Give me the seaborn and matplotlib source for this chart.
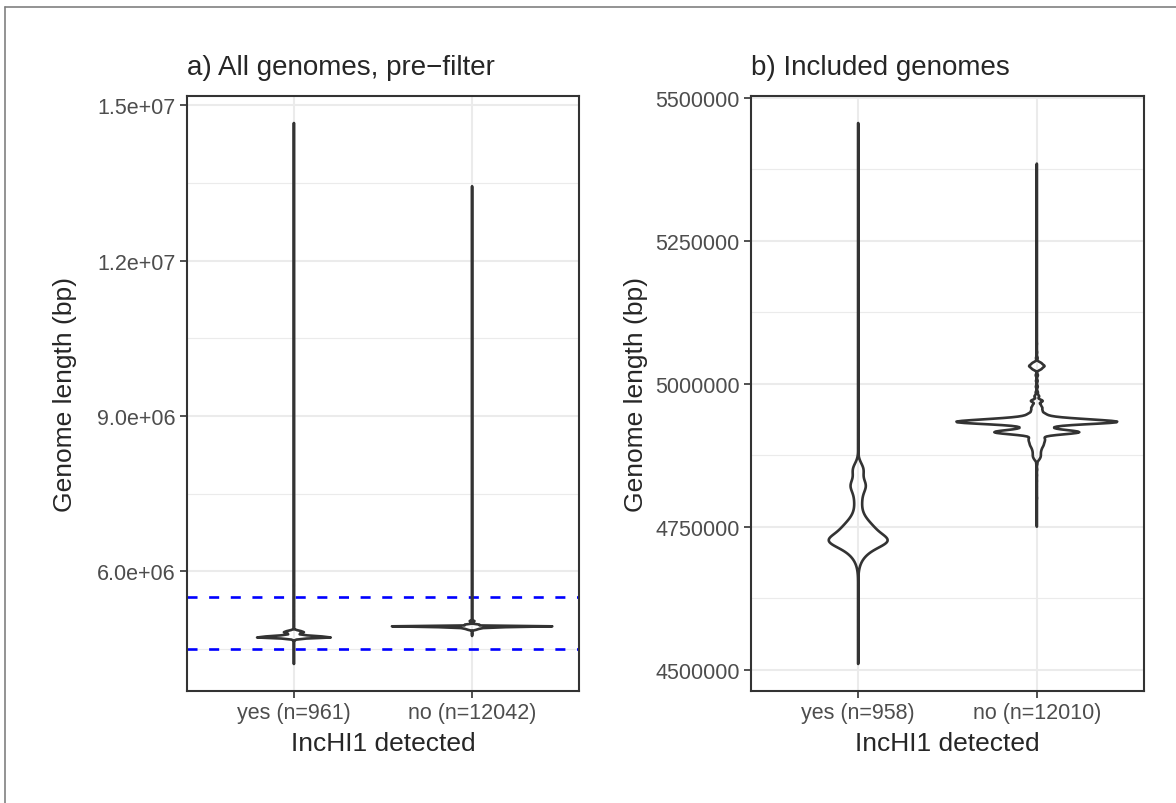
"""Genome length violins for IncHI1 carriers, before and after the length filter."""

import matplotlib.pyplot as plt
import numpy as np
import pandas as pd
import seaborn as sns
from matplotlib.lines import Line2D
from matplotlib.ticker import FixedLocator, FuncFormatter

# IncHI1 detected, genomes kept after the filter (length in bp, number of genomes)
yes_lengths = [
    4510000, 4560000, 4600000, 4630000, 4650000, 4665000,
    4675000, 4680000, 4685000, 4690000, 4695000, 4700000, 4705000, 4710000, 4715000,
    4720000, 4725000, 4730000, 4735000, 4740000, 4745000, 4750000, 4755000, 4760000,
    4765000, 4770000, 4775000, 4780000, 4785000, 4790000, 4795000, 4800000, 4805000,
    4810000, 4815000, 4820000, 4825000, 4830000, 4835000, 4840000, 4845000, 4850000,
    4855000, 4860000, 4865000,
    4890000, 4920000, 4960000, 5000000, 5050000, 5100000, 5160000, 5220000, 5280000,
    5340000, 5400000, 5456000,
]
yes_counts = [
    1, 1, 1, 1, 1, 1,
    2, 3, 5, 8, 12, 18, 27, 35, 45,
    70, 120, 75, 55, 48, 45, 42, 33, 24,
    20, 14, 11, 9, 9, 9, 10, 10, 10,
    12, 15, 28, 28, 13, 6, 8, 17, 20,
    16, 6, 2,
    1, 1, 1, 1, 1, 1, 1, 1, 1,
    1, 1, 1,
]

# IncHI1 not detected, genomes kept after the filter
no_lengths = [
    4750000, 4760000, 4770000, 4780000, 4790000, 4800000, 4810000, 4820000, 4830000,
    4840000, 4850000, 4860000,
    4866000, 4869000, 4872000, 4875000, 4878000, 4881000, 4884000, 4887000, 4890000,
    4893000, 4896000, 4899000, 4902000, 4905000,
    4909000, 4911000, 4913000, 4915000, 4917000, 4919000, 4921000, 4923000, 4925000,
    4927000, 4928000, 4929000, 4930000, 4931000, 4932000, 4933000, 4934000, 4935000,
    4936000, 4937000, 4938000, 4939000, 4940000, 4941000,
    4943000, 4945000,
    4948000, 4953000, 4958000, 4963000, 4970000, 4978000,
    4985000, 4995000, 5005000, 5015000,
    5026000, 5031000, 5036000,
    5045000, 5055000, 5070000, 5085000, 5100000, 5120000, 5150000, 5180000, 5210000,
    5250000, 5290000, 5330000, 5385000,
]
no_counts = [
    1, 2, 2, 3, 4, 12, 5, 6, 8,
    10, 15, 20,
    38, 56, 75, 75, 75, 75, 85, 94, 113,
    132, 132, 150, 150, 169,
    138, 224, 500, 650, 560, 344, 206, 155, 206,
    155, 206, 275, 324, 420, 580, 700, 580, 460,
    400, 387, 327, 258, 206, 155,
    206, 120,
    215, 172, 172, 129, 215, 86,
    40, 35, 30, 40,
    150, 250, 150,
    30, 15, 10, 6, 4, 3, 2, 2, 1,
    1, 1, 1, 1,
]

# genomes dropped by the length filter
yes_removed = [4210000, 5720000, 14660000]
no_removed = [
    5550000, 5600000, 5650000, 5700000, 5750000, 5800000, 5900000, 6000000,
    6100000, 6200000, 6300000, 6500000, 6700000, 6900000, 7100000, 7400000,
    7700000, 8000000, 8300000, 8600000, 8900000, 9200000, 9500000, 9800000,
    10100000, 10500000, 10900000, 11400000, 11900000, 12400000, 12900000, 13440000,
]

filter_bounds = [4500000, 5500000]
left_ticks = [6.0e6, 9.0e6, 1.2e7, 1.5e7]
right_ticks = [4500000, 4750000, 5000000, 5250000, 5500000]

LINE = "#333333"
GRID = "#EBEBEB"
TICK_TEXT = "#4D4D4D"


def nrd0(kde):
    """R's default bandwidth (bw.nrd0), as a factor for scipy's gaussian_kde."""
    x = kde.dataset.ravel()
    sd = x.std(ddof=1)
    q75, q25 = np.percentile(x, [75, 25])
    bw = 0.9 * min(sd, (q75 - q25) / 1.34) * len(x) ** -0.2
    return bw / sd


def make_frame(yes, no):
    labels = [f"yes (n={len(yes)})", f"no (n={len(no)})"]
    df = pd.DataFrame(
        {
            "group": np.repeat(labels, [len(yes), len(no)]),
            "length": np.concatenate([yes, no]),
        }
    )
    return df, labels


def draw_panel(ax, df, order, ticks, fmt, title, label_x):
    sns.violinplot(
        data=df,
        x="group",
        y="length",
        order=order,
        color=LINE,
        linecolor=LINE,
        saturation=1,
        fill=False,
        inner=None,
        cut=0,
        width=0.9,
        gridsize=512,
        bw_method=nrd0,
        density_norm="area",
        common_norm=True,
        linewidth=1.9,
        ax=ax,
    )

    lo, hi = df["length"].min(), df["length"].max()
    pad = 0.05 * (hi - lo)
    ax.set_ylim(lo - pad, hi + pad)
    ax.set_xlim(-0.6, 1.6)

    step = ticks[1] - ticks[0]
    ext = [ticks[0] - step] + list(ticks) + [ticks[-1] + step]
    minor = [(a + b) / 2 for a, b in zip(ext[:-1], ext[1:]) if lo - pad < (a + b) / 2 < hi + pad]
    ax.yaxis.set_major_locator(FixedLocator(ticks))
    ax.yaxis.set_major_formatter(FuncFormatter(fmt))
    ax.yaxis.set_minor_locator(FixedLocator(minor))

    ax.set_axisbelow(True)
    ax.grid(which="major", color=GRID, linewidth=1.5)
    ax.grid(which="minor", axis="y", color=GRID, linewidth=0.8)
    ax.tick_params(which="major", left=True, bottom=True, length=5, width=1.2, color=LINE,
                   labelsize=15.5, labelcolor=TICK_TEXT, pad=3)
    ax.tick_params(which="minor", left=False, bottom=False, length=0)
    for side in ax.spines.values():
        side.set_color(LINE)
        side.set_linewidth(1.5)

    ax.set_title(title, loc="left", fontsize=20, pad=15.5)
    ax.set_xlabel("IncHI1 detected", fontsize=19)
    ax.set_ylabel("Genome length (bp)", fontsize=19)
    ax.xaxis.set_label_coords(0.5, -0.067)
    ax.yaxis.set_label_coords(label_x, 0.5)


sns.set_style("white")
plt.rcParams["font.family"] = ["Liberation Sans", "DejaVu Sans"]

yes_kept = np.repeat(yes_lengths, yes_counts)
no_kept = np.repeat(no_lengths, no_counts)
yes_all = np.concatenate([yes_kept, yes_removed])
no_all = np.concatenate([no_kept, no_removed])

all_df, all_order = make_frame(yes_all, no_all)
kept_df, kept_order = make_frame(yes_kept, no_kept)

fig = plt.figure(figsize=(11.76, 8.04), dpi=100)
ax_a = fig.add_axes([187 / 1176, 1 - 692 / 804, 392 / 1176, 595 / 804])
ax_b = fig.add_axes([751 / 1176, 1 - 692 / 804, 393 / 1176, 595 / 804])

for bound in filter_bounds:
    ax_a.axhline(bound, color="#0000FF", linewidth=1.9, linestyle=(0, (3.8, 4.4)), zorder=0.8)

draw_panel(ax_a, all_df, all_order, left_ticks, lambda v, _: f"{v:.1e}",
           "a) All genomes, pre\u2212filter", -0.28)
draw_panel(ax_b, kept_df, kept_order, right_ticks, lambda v, _: f"{v:.0f}",
           "b) Included genomes", -0.262)

# outer frame of the original figure (only its left and top edges are in view)
fig.add_artist(Line2D([5 / 1176, 5 / 1176], [0, 1 - 8 / 804], transform=fig.transFigure,
                      color="#808080", linewidth=1.2))
fig.add_artist(Line2D([5 / 1176, 1], [1 - 8 / 804, 1 - 8 / 804], transform=fig.transFigure,
                      color="#808080", linewidth=1.2))

fig.savefig("out.png", dpi=100)
plt.close(fig)
